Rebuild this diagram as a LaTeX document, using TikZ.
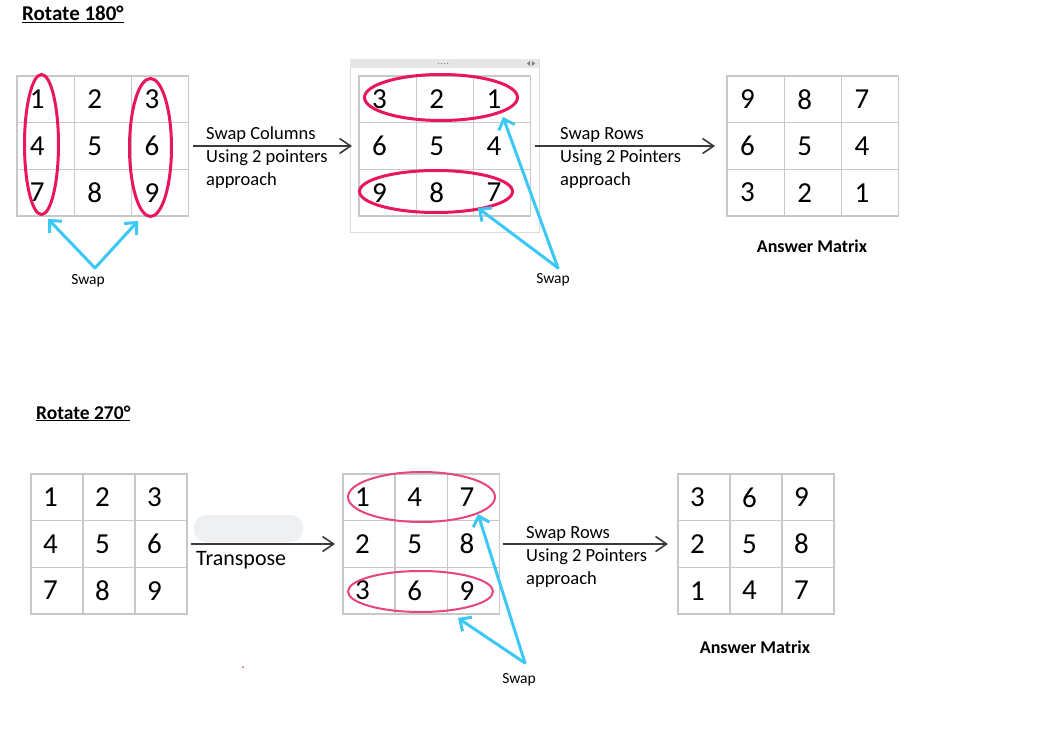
\documentclass[tikz,border=0pt]{standalone}
\usepackage{fontspec}
\setmainfont{Carlito}
\usetikzlibrary{arrows.meta,shapes.geometric}
\definecolor{gridgray}{HTML}{C8C8C8}
\definecolor{pinkc}{HTML}{E8175D}
\definecolor{pinkb}{HTML}{E8457B}
\definecolor{bluec}{HTML}{3CC8F4}
\definecolor{darkc}{HTML}{3A3A3A}
\definecolor{panelgray}{HTML}{DCDCDC}
\definecolor{barfill}{HTML}{E6E6E6}
\definecolor{blobgray}{HTML}{EFF0F2}
\tikzset{
  cellA/.style={draw=gridgray, line width=1.1pt, anchor=north west, minimum height=46.67pt,
    text width=31.3pt, inner xsep=13pt, inner ysep=0pt, align=left, outer sep=0pt,
    font=\fontsize{29}{30}\selectfont},
  cellB/.style={cellA, text width=28pt, inner xsep=12pt},
  pinkA/.style={draw=pinkc, line width=3pt, ellipse, inner sep=0pt},
  pinkB/.style={draw=pinkb, line width=2pt, ellipse, inner sep=0pt},
  flow/.style={draw=darkc, line width=1.6pt, -{Straight Barb[length=11pt,width=15pt]}},
  swaparrow/.style={draw=bluec, line width=3pt, line cap=round,
    -{Straight Barb[length=9pt,width=17pt]}},
  steplabel/.style={anchor=west, align=left, inner sep=0pt, font=\fontsize{18.5}{23}\selectfont},
  swaplabel/.style={anchor=base, inner sep=0pt, font=\fontsize{15.5}{18}\selectfont},
  answerlabel/.style={anchor=base, inner sep=0pt, font=\bfseries\fontsize{18}{20}\selectfont},
  titlelabel/.style={anchor=base west, inner sep=0pt, font=\bfseries\fontsize{21}{24}\selectfont},
}
\newcommand\matgrid[6]{%
  \foreach \v [count=\i from 0] in {#6}{%
    \pgfmathtruncatemacro\myrow{\i/3}%
    \pgfmathtruncatemacro\mycol{\i-3*\myrow}%
    \node[#5] (#1-\i) at (#2+\mycol*#4, #3+\myrow*46.67) {\v};
  }}
\begin{document}
\begin{tikzpicture}[x=1pt, y=-1pt]
\fill[white] (0,0) rectangle (1037,746);
\useasboundingbox (0,0) rectangle (1037,746);

% ---------- Rotate 180 ----------
\node[titlelabel] (t1) at (22,21) {\underline{Rotate 180°}};

\matgrid{ga}{17}{76}{57.3}{cellA}{1,2,3,4,5,6,7,8,9}

% window panel around second grid
\draw[panelgray, fill=white, line width=0.8pt] (350,59) rectangle (539,232);
\fill[barfill] (350,59) rectangle (539,68);
\foreach \dx in {-4.5,-1.5,1.5,4.5} \fill[gray] (443+\dx,63.5) circle (0.7);
\fill[gray] (527,63.5) -- (530,61) -- (530,66) -- cycle;
\fill[gray] (535,63.5) -- (532,61) -- (532,66) -- cycle;

\matgrid{gb}{359}{76}{57.3}{cellA}{3,2,1,6,5,4,9,8,7}
\matgrid{gc}{727}{76}{57.3}{cellA}{9,8,7,6,5,4,3,2,1}

\node[pinkA, minimum width=34pt, minimum height=140pt] (ea1) at (41.5,144.5) {};
\node[pinkA, minimum width=42pt, minimum height=138pt] (ea2) at (150.5,147.5) {};
\node[pinkA, minimum width=153pt, minimum height=46pt] (eb1) at (441,97.5) {};
\node[pinkA, minimum width=153pt, minimum height=42pt] (eb2) at (436,191.5) {};

\draw[flow] ([xshift=4pt]ga-5.east) -- ([xshift=-7pt]gb-3.west);
\node[steplabel] (l1) at (206,158) {Swap Columns\\Using 2 pointers\\approach};
\draw[flow] ([xshift=4pt]gb-5.east) -- ([xshift=-12pt]gc-3.west);
\node[steplabel] (l2) at (560,158) {Swap Rows\\Using 2 Pointers\\approach};

\node[answerlabel] (ans1) at (812,253) {Answer Matrix};

\coordinate (s1) at (95,268);
\coordinate (s1a) at (48,219);
\coordinate (s1b) at (138,221);
\draw[swaparrow] (s1) -- (s1a);
\draw[swaparrow] (s1) -- (s1b);
\node[swaplabel] (sw1) at (88,285) {Swap};

\coordinate (s2) at (558,268);
\coordinate (s2a) at (503,117);
\coordinate (s2b) at (478,208);
\draw[swaparrow] (s2) -- (s2a);
\draw[swaparrow] (s2) -- (s2b);
\node[swaplabel] (sw2) at (553,284) {Swap};

% ---------- Rotate 270 ----------
\node[titlelabel, font=\bfseries\fontsize{19.5}{22}\selectfont] (t2) at (36,419) {\underline{Rotate 270°}};

\matgrid{gd}{31}{474}{52}{cellB}{1,2,3,4,5,6,7,8,9}
\matgrid{ge}{343}{474}{52.3}{cellB}{1,4,7,2,5,8,3,6,9}
\matgrid{gf}{678}{474}{52}{cellB}{3,6,9,2,5,8,1,4,7}

\node[pinkB, minimum width=147pt, minimum height=50pt] (ee1) at (421.5,497) {};
\node[pinkB, minimum width=145pt, minimum height=41pt] (ee2) at (420.5,591.5) {};

\fill[blobgray, rounded corners=12pt] (194,515) rectangle (303,542);
\draw[flow] ([xshift=4pt]gd-5.east) -- ([xshift=-8pt]ge-3.west);
\node[anchor=base west, inner sep=0pt, font=\fontsize{22}{24}\selectfont] (l3) at (196,565) {Transpose};

\draw[flow] ([xshift=3pt]ge-5.east) -- ([xshift=-10pt]gf-3.west);
\node[steplabel] (l4) at (526,557) {Swap Rows\\Using 2 Pointers\\approach};

\node[answerlabel] (ans2) at (755,653) {Answer Matrix};

\coordinate (s3) at (525,663);
\coordinate (s3a) at (478,514);
\coordinate (s3b) at (458,618);
\draw[swaparrow] (s3) -- (s3a);
\draw[swaparrow] (s3) -- (s3b);
\node[swaplabel] (sw3) at (519,683) {Swap};

\fill[pinkb] (243,667) circle (1);
\end{tikzpicture}
\end{document}
